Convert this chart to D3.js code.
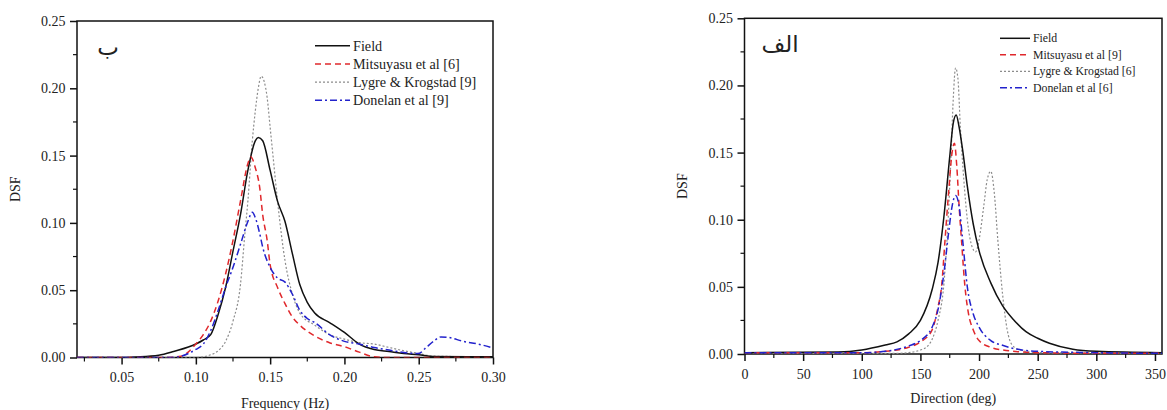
<!DOCTYPE html>
<html>
<head>
<meta charset="utf-8">
<script src="https://cdn.jsdelivr.net/npm/d3@7"></script>
<style>
  body { margin: 0; background: #fff; }
  text { font-family: "Liberation Serif", "Times New Roman", Tinos, "DejaVu Serif", serif; fill: #222; }
  text.arabic { font-family: "DejaVu Sans", "Noto Sans", sans-serif; }
</style>
</head>
<body>
<svg id="chart" width="1167" height="410"></svg>
<script>
// ---- data: frequency panel (ب) ----
var freqTicks = [0.05, 0.10, 0.15, 0.20, 0.25, 0.30];
var dsfTicks = [0.00, 0.05, 0.10, 0.15, 0.20, 0.25];

var freqField = [[0.02,0],[0.05,0],[0.06,0.0004],[0.075,0.0017],[0.085,0.0045],[0.10,0.010],[0.105,0.013],
  [0.11,0.017],[0.115,0.032],[0.12,0.052],[0.125,0.079],[0.13,0.106],[0.135,0.139],[0.14,0.161],[0.142,0.1634],
  [0.145,0.161],[0.15,0.139],[0.155,0.116],[0.16,0.101],[0.165,0.077],[0.17,0.054],[0.175,0.041],[0.18,0.033],
  [0.19,0.026],[0.20,0.0186],[0.21,0.010],[0.22,0.006],[0.23,0.0045],[0.24,0.003],[0.25,0.002],[0.26,0.0007],[0.30,0.0005]];
var freqMitsuyasu = [[0.02,0],[0.08,0],[0.09,0.001],[0.10,0.010],[0.105,0.017],[0.11,0.027],[0.115,0.042],
  [0.12,0.062],[0.125,0.087],[0.13,0.116],[0.135,0.144],[0.137,0.149],[0.14,0.141],[0.143,0.126],[0.145,0.106],
  [0.148,0.087],[0.15,0.069],[0.155,0.052],[0.16,0.040],[0.165,0.030],[0.17,0.024],[0.18,0.016],[0.19,0.011],
  [0.20,0.008],[0.21,0.004],[0.22,0.0005],[0.23,0],[0.30,0]];
var freqLygre = [[0.02,0],[0.10,0],[0.105,0.0005],[0.11,0.002],[0.115,0.005],[0.12,0.012],[0.125,0.027],
  [0.13,0.054],[0.133,0.092],[0.135,0.116],[0.138,0.161],[0.14,0.183],[0.142,0.200],[0.144,0.209],[0.146,0.205],
  [0.148,0.193],[0.15,0.171],[0.152,0.149],[0.155,0.116],[0.16,0.072],[0.165,0.047],[0.17,0.033],[0.18,0.024],
  [0.19,0.017],[0.20,0.0136],[0.21,0.011],[0.22,0.010],[0.23,0.0075],[0.24,0.005],[0.25,0.003],[0.26,0.001],[0.30,0.0005]];
var freqDonelan = [[0.02,0],[0.085,0],[0.09,0.001],[0.10,0.006],[0.105,0.010],[0.11,0.020],[0.115,0.035],
  [0.12,0.052],[0.125,0.067],[0.13,0.084],[0.135,0.101],[0.138,0.108],[0.14,0.104],[0.143,0.092],[0.145,0.082],
  [0.15,0.067],[0.155,0.059],[0.16,0.056],[0.165,0.047],[0.17,0.035],[0.175,0.029],[0.18,0.026],[0.19,0.017],
  [0.20,0.012],[0.21,0.010],[0.22,0.0074],[0.23,0.0055],[0.24,0.0037],[0.25,0.003],[0.255,0.0074],[0.26,0.012],
  [0.265,0.0153],[0.27,0.0149],[0.28,0.012],[0.29,0.010],[0.30,0.007]];

// ---- data: direction panel (الف) ----
var dirTicks = [0, 50, 100, 150, 200, 250, 300, 350];

var dirField = [[0,0.001],[80,0.0015],[100,0.003],[120,0.0067],[130,0.009],[140,0.015],[150,0.025],[160,0.048],
  [165,0.068],[170,0.102],[175,0.147],[178,0.172],[180.5,0.178],[183,0.169],[186,0.152],[190,0.125],[195,0.097],
  [200,0.077],[210,0.053],[220,0.036],[230,0.025],[240,0.0166],[250,0.0117],[260,0.008],[280,0.0035],[300,0.002],[356,0.001]];
var dirMitsuyasu = [[0,0.001],[100,0.001],[120,0.002],[140,0.005],[150,0.009],[160,0.018],[165,0.035],[168,0.05],
  [171,0.085],[174,0.12],[177,0.15],[179,0.157],[181,0.14],[183,0.11],[185,0.085],[188,0.05],[191,0.03],[195,0.018],
  [200,0.010],[210,0.005],[220,0.003],[250,0.001],[300,0.0005],[356,0.0005]];
var dirLygre = [[0,0.0005],[130,0.0005],[140,0.001],[150,0.003],[155,0.005],[160,0.011],[165,0.025],[170,0.052],
  [173,0.09],[176,0.145],[178,0.19],[180,0.213],[182,0.205],[184,0.17],[187,0.13],[190,0.10],[194,0.08],[197,0.076],
  [200,0.085],[204,0.11],[207,0.13],[210,0.136],[213,0.12],[216,0.085],[220,0.045],[224,0.018],[228,0.007],
  [235,0.003],[250,0.001],[356,0.0005]];
var dirDonelan = [[0,0.001],[100,0.001],[120,0.002],[140,0.006],[150,0.010],[160,0.02],[165,0.033],[170,0.06],
  [174,0.09],[177,0.11],[180,0.118],[183,0.11],[186,0.085],[190,0.05],[195,0.03],[200,0.02],[210,0.01],[220,0.0065],
  [230,0.004],[250,0.002],[300,0.001],[356,0.0005]];

var styles = [
  { color: "#111", width: 1.5, dash: null },
  { color: "#e0282c", width: 1.5, dash: "6,4" },
  { color: "#8c8c8c", width: 1.2, dash: "2,2" },
  { color: "#2222cc", width: 1.5, dash: "7,3,2,3" }
];

var svg = d3.select("#chart");

function drawPanel(opt) {
  var x = d3.scaleLinear().domain(opt.xDomain).range([opt.left, opt.right]);
  var y = d3.scaleLinear().domain([0, 0.25]).range([opt.bottom, opt.top]);
  var g = svg.append("g");

  // frame
  g.append("rect")
    .attr("x", opt.left).attr("y", opt.top)
    .attr("width", opt.right - opt.left).attr("height", opt.bottom - opt.top)
    .attr("fill", "none").attr("stroke", "#111").attr("stroke-width", 1.5);

  // minor ticks
  var xMinor = d3.range(opt.xMinorStart, opt.xDomain[1] + 1e-9, opt.xMinorStep);
  g.selectAll(".xm").data(xMinor).enter().append("line")
    .attr("x1", d => x(d)).attr("x2", d => x(d))
    .attr("y1", opt.bottom).attr("y2", opt.bottom + 4)
    .attr("stroke", "#111").attr("stroke-width", 1.2);
  var yMinor = d3.range(0.025, 0.25, 0.05);
  g.selectAll(".ym").data(yMinor).enter().append("line")
    .attr("x1", opt.left - 4).attr("x2", opt.left)
    .attr("y1", d => y(d)).attr("y2", d => y(d))
    .attr("stroke", "#111").attr("stroke-width", 1.2);

  // axes
  var xAxis = d3.axisBottom(x).tickValues(opt.xTicks).tickFormat(opt.xFormat).tickSize(7).tickSizeOuter(0);
  var yAxis = d3.axisLeft(y).tickValues(dsfTicks).tickFormat(d3.format(".2f")).tickSize(7).tickSizeOuter(0);

  var gx = g.append("g").attr("transform", `translate(0,${opt.bottom})`).call(xAxis);
  var gy = g.append("g").attr("transform", `translate(${opt.left},0)`).call(yAxis);
  [gx, gy].forEach(a => {
    a.attr("font-family", null).attr("font-size", null);
    a.select(".domain").remove();
    a.selectAll("line").attr("stroke", "#111").attr("stroke-width", 1.5);
    a.selectAll("text").style("font-size", "14px").attr("fill", "#333");
  });
  gx.selectAll("text").attr("dy", "1.05em");
  gy.selectAll("text").attr("dx", "-0.1em");

  // curves
  var line = d3.line().x(d => x(d[0])).y(d => y(d[1])).curve(d3.curveMonotoneX);
  var clipId = "clip" + opt.id;
  svg.append("clipPath").attr("id", clipId).append("rect")
    .attr("x", opt.left).attr("y", opt.top)
    .attr("width", opt.right - opt.left).attr("height", opt.bottom - opt.top);
  var order = [2, 0, 1, 3];
  order.forEach(i => {
    g.append("path")
      .datum(opt.series[i])
      .attr("clip-path", `url(#${clipId})`)
      .attr("d", line)
      .attr("fill", "none")
      .attr("stroke", styles[i].color)
      .attr("stroke-width", styles[i].width)
      .attr("stroke-dasharray", styles[i].dash);
  });

  // legend
  var lg = g.append("g");
  opt.names.forEach((name, i) => {
    var ly = opt.legendY + i * opt.legendStep;
    lg.append("line")
      .attr("x1", opt.legendX).attr("x2", opt.legendX + opt.legendLen)
      .attr("y1", ly).attr("y2", ly)
      .attr("stroke", styles[i].color)
      .attr("stroke-width", styles[i].width)
      .attr("stroke-dasharray", styles[i].dash);
    lg.append("text")
      .attr("x", opt.legendX + opt.legendLen + 3).attr("y", ly)
      .attr("dy", "0.35em")
      .style("font-size", opt.legendFont + "px")
      .text(name);
  });

  // panel letter
  g.append("text")
    .attr("class", "arabic")
    .attr("x", opt.letterX).attr("y", opt.letterY)
    .attr("text-anchor", "middle")
    .style("font-size", "23px")
    .attr("fill", "#111")
    .text(opt.letter);

  // axis titles
  g.append("text")
    .attr("x", (opt.left + opt.right) / 2).attr("y", opt.xTitleY)
    .attr("text-anchor", "middle")
    .style("font-size", "14px")
    .text(opt.xTitle);
  g.append("text")
    .attr("transform", `translate(${opt.yTitleX},${(opt.top + opt.bottom) / 2}) rotate(-90)`)
    .attr("text-anchor", "middle")
    .style("font-size", "14px")
    .text("DSF");
}

drawPanel({
  id: 1,
  left: 77, right: 493, top: 21, bottom: 357.5,
  xDomain: [0.02, 0.30], xTicks: freqTicks, xFormat: d3.format(".2f"),
  xMinorStart: 0.025, xMinorStep: 0.05,
  series: [freqField, freqMitsuyasu, freqLygre, freqDonelan],
  names: ["Field", "Mitsuyasu et al [6]", "Lygre & Krogstad [9]", "Donelan et al [9]"],
  legendX: 315, legendLen: 35, legendY: 45.7, legendStep: 18.2, legendFont: 14.2,
  letter: "ب", letterX: 108, letterY: 55,
  xTitle: "Frequency (Hz)", xTitleY: 408, yTitleX: 20
});

drawPanel({
  id: 2,
  left: 744.5, right: 1162, top: 18.3, bottom: 354,
  xDomain: [0, 356], xTicks: dirTicks, xFormat: d3.format("d"),
  xMinorStart: 25, xMinorStep: 50,
  series: [dirField, dirMitsuyasu, dirLygre, dirDonelan],
  names: ["Field", "Mitsuyasu et al [9]", "Lygre & Krogstad [6]", "Donelan et al [6]"],
  legendX: 1000, legendLen: 30, legendY: 38.3, legendStep: 16.5, legendFont: 11.8,
  letter: "الف", letterX: 780, letterY: 52,
  xTitle: "Direction (deg)", xTitleY: 403, yTitleX: 687
});
</script>
</body>
</html>
